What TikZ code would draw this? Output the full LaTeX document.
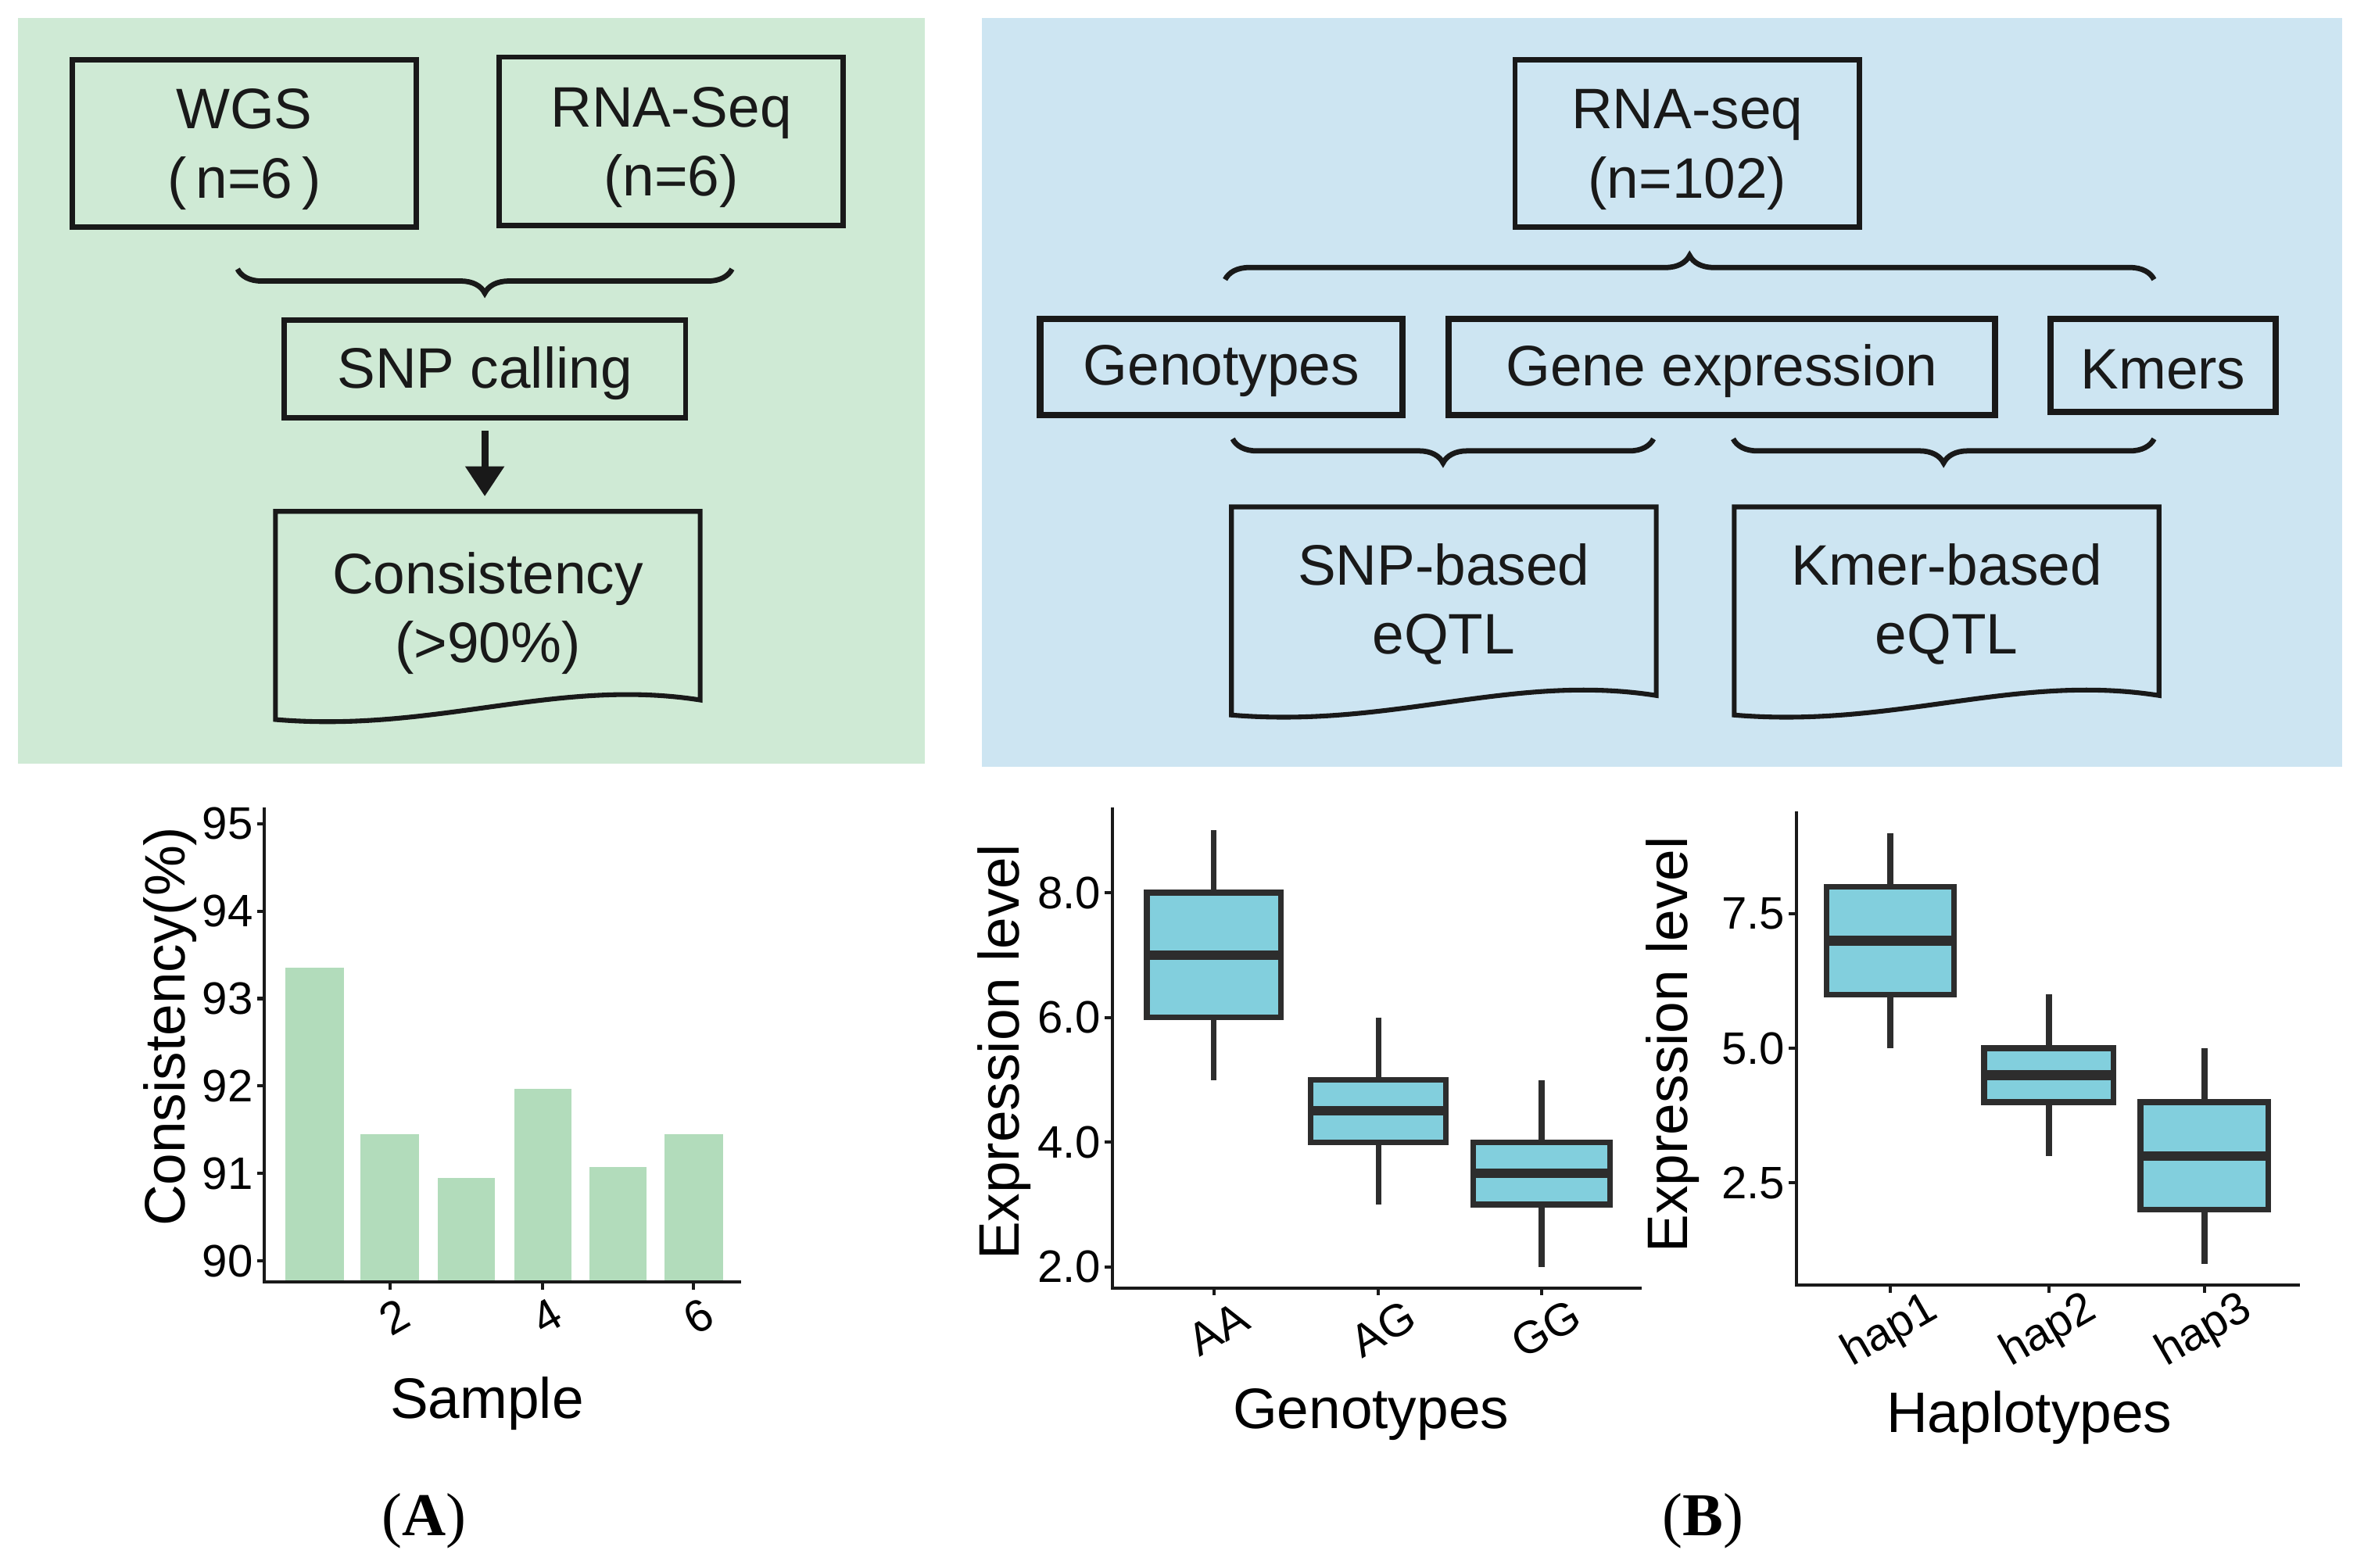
\documentclass[tikz,border=0pt]{standalone}
\usepackage{fontspec}
\setmainfont{Liberation Sans}
\newfontfamily\panelserif{Liberation Serif}
\usetikzlibrary{decorations.pathreplacing,arrows.meta,calc}
\definecolor{greenbg}{RGB}{207,234,213}
\definecolor{bluebg}{RGB}{205,229,242}
\definecolor{barfill}{RGB}{178,220,187}
\definecolor{boxfill}{RGB}{130,207,221}
\definecolor{boxline}{RGB}{45,45,45}
\definecolor{ink}{RGB}{25,25,25}
\newcommand\docoutline[1]{%
  \draw[docline] (#1.north west) -- (#1.north east) -- (#1.south east)
    .. controls ($(#1.south east)+(-96,-15)$) and ($(#1.south west)+(107,22)$) ..
    ($(#1.south west)+(0,13)$) -- cycle;}
\newcommand\bxplot[7]{%
  \draw[whisk] (#1,#6) -- (#1,#3);
  \draw[whisk] (#1,#4) -- (#1,#7);
  \filldraw[boxst] (#1-#2,#3) rectangle (#1+#2,#4);
  \draw[medst] (#1-#2,#5) -- (#1+#2,#5);}
\begin{document}
\begin{tikzpicture}[x=0.01cm,y=-0.01cm,
  txt/.style={font=\fontsize{10.8}{13.1}\selectfont, text=ink, align=center, inner sep=0pt},
  flowbox/.style={draw=ink, line width=1pt, inner sep=0pt},
  thickbox/.style={flowbox, line width=1.2pt},
  docnode/.style={inner sep=0pt, minimum width=2.81cm, minimum height=1.24cm},
  docline/.style={draw=ink, line width=0.9pt},
  bracedn/.style={draw=ink, line width=1pt, decorate, decoration={brace, mirror, amplitude=0.16cm}},
  braceup/.style={draw=ink, line width=1pt, decorate, decoration={brace, amplitude=0.16cm}},
  axisline/.style={draw=black!90, line width=0.6pt},
  ticklab/.style={font=\fontsize{8.6}{10}\selectfont, text=black, inner sep=0pt},
  axtitle/.style={font=\fontsize{10.8}{13}\selectfont, text=black, inner sep=0pt},
  barst/.style={fill=barfill, draw=none},
  whisk/.style={draw=boxline, line width=1.1pt},
  boxst/.style={fill=boxfill, draw=boxline, line width=1.1pt},
  medst/.style={draw=boxline, line width=1.8pt},
  panellab/.style={font=\panelserif\fontsize{11.5}{13}\selectfont, inner sep=0pt}
]
\useasboundingbox (0,0) rectangle (1568,1043);
\fill[white] (0,0) rectangle (1568,1043);
\fill[greenbg] (12,12) rectangle (615,508);
\fill[bluebg] (653,12) rectangle (1558,510);

% ---------- left flowchart ----------
\node[flowbox, minimum width=2.29cm, minimum height=1.11cm] (wgs) at (162.5,95.5) {};
\node[txt] (wgsT) at ($(wgs)+(0,4)$) {WGS\\(\,n=6\,)};
\node[flowbox, minimum width=2.29cm, minimum height=1.12cm] (rnaA) at (446.5,94) {};
\node[txt] (rnaAT) at ($(rnaA)+(0,4)$) {RNA-Seq\\(n=6)};
\coordinate (bA1) at (158,179);
\coordinate (bA2) at (487,179);
\draw[bracedn] (bA1) -- (bA2);
\node[flowbox, minimum width=2.67cm, minimum height=0.65cm] (snp) at (322.5,245.5) {};
\node[txt] (snpT) at ($(snp)+(0,3)$) {SNP calling};
\node[docnode] (cons) at (324.5,403) {};
\docoutline{cons}
\node[txt] (consT) at ($(cons)+(0,5)$) {Consistency\\(>90\%)};
\draw[draw=ink, line width=1.3pt, -{Triangle[width=0.25cm,length=0.2cm]}, shorten <=0.07cm, shorten >=0.1cm] (snp.south) -- (snp.south |- cons.north);

% ---------- right flowchart ----------
\node[flowbox, minimum width=2.29cm, minimum height=1.11cm] (rnaB) at (1122.5,95.5) {};
\node[txt] (rnaBT) at ($(rnaB)+(0,4)$) {RNA-seq\\(n=102)};
\coordinate (bB1) at (815,186);
\coordinate (bB2) at (1433,186);
\draw[braceup] (bB1) -- (bB2);
\node[thickbox, minimum width=2.41cm, minimum height=0.64cm] (geno) at (812.5,244) {};
\node[txt] (genoT) at ($(geno)+(0,3)$) {Genotypes};
\node[thickbox, minimum width=3.63cm, minimum height=0.64cm] (gexp) at (1145.5,244) {};
\node[txt] (gexpT) at ($(gexp)+(0,3)$) {Gene expression};
\node[thickbox, minimum width=1.50cm, minimum height=0.62cm] (kmers) at (1439,243) {};
\node[txt] (kmersT) at ($(kmers)+(0,3)$) {Kmers};
\coordinate (bC1) at (820,292);
\coordinate (bC2) at (1100,292);
\draw[bracedn] (bC1) -- (bC2);
\coordinate (bD1) at (1153,292);
\coordinate (bD2) at (1433,292);
\draw[bracedn] (bD1) -- (bD2);
\node[docnode] (snpq) at (960.5,400) {};
\docoutline{snpq}
\node[txt] (snpqT) at ($(snpq)+(0,2)$) {SNP-based\\eQTL};
\node[docnode] (kmerq) at (1295,400) {};
\docoutline{kmerq}
\node[txt] (kmerqT) at ($(kmerq)+(0,2)$) {Kmer-based\\eQTL};

% ---------- bar chart (A) ----------
\fill[barst] (190,644) rectangle (229,853);
\fill[barst] (240,754.6) rectangle (279,853);
\fill[barst] (291,783.7) rectangle (329,853);
\fill[barst] (342,724.3) rectangle (380,853);
\fill[barst] (392,776.7) rectangle (430,853);
\fill[barst] (442,754.6) rectangle (481,853);
\draw[axisline] (176,537) -- (176,853) -- (493,853);
\foreach \v/\yy in {95/548,94/606.2,93/664.4,92/722.6,91/780.8,90/839}{
  \draw[axisline] (176,\yy) -- (171,\yy);
  \node[ticklab, anchor=east] (ya\v) at (169,\yy) {\v};
}
\foreach \v/\xx in {2/259.5,4/361,6/461.5}{
  \draw[axisline] (\xx,853) -- (\xx,858);
  \node[ticklab, rotate=30] (xa\v) at (\xx+3,876) {\v};
}
\node[axtitle] (sample) at (324,934) {Sample};
\node[axtitle, rotate=90] (consy) at (113,683) {Consistency(\%)};

% ---------- box plot Genotypes ----------
\draw[axisline] (740,537) -- (740,857) -- (1092,857);
\foreach \v/\yy in {8.0/594,6.0/677,4.0/760,2.0/843}{
  \draw[axisline] (740,\yy) -- (735,\yy);
  \node[ticklab, anchor=east] (yg\v) at (733,\yy) {\v};
}
\bxplot{807.5}{44.5}{594}{677}{635.5}{552.5}{718.5}
\bxplot{917}{45}{718.5}{760}{739}{677}{801.5}
\bxplot{1025.5}{45.5}{760}{801.5}{780.5}{718.5}{843}
\foreach \lab/\xx in {AA/807.5,AG/917,GG/1025.5}{
  \draw[axisline] (\xx,857) -- (\xx,862);
  \node[ticklab, rotate=30] (xg\lab) at (\xx+3,884) {\lab};
}
\node[axtitle] (genot) at (912,941) {Genotypes};
\node[axtitle, rotate=90] (exprA) at (668,700) {Expression level};

% ---------- box plot Haplotypes ----------
\draw[axisline] (1195,540) -- (1195,855) -- (1530,855);
\foreach \v/\yy in {7.5/608,5.0/697.5,2.5/787}{
  \draw[axisline] (1195,\yy) -- (1190,\yy);
  \node[ticklab, anchor=east] (yh\v) at (1188,\yy) {\v};
}
\bxplot{1257.5}{42.5}{590.1}{661.7}{625.9}{554.3}{697.5}
\bxplot{1363}{43}{697.5}{733.3}{715.4}{661.7}{769.1}
\bxplot{1466.5}{42.5}{733.3}{804.9}{769.1}{697.5}{840.7}
\foreach \lab/\xx in {hap1/1257.5,hap2/1363,hap3/1466.5}{
  \draw[axisline] (\xx,855) -- (\xx,860);
  \node[ticklab, rotate=30] (xh\lab) at (\xx,886) {\lab};
}
\node[axtitle] (haplo) at (1350,943) {Haplotypes};
\node[axtitle, rotate=90] (exprB) at (1113,695) {Expression level};

% ---------- panel labels ----------
\node[panellab] (labA) at (282,1012) {(\textbf{A})};
\node[panellab] (labB) at (1133,1012) {(\textbf{B})};
\end{tikzpicture}
\end{document}
